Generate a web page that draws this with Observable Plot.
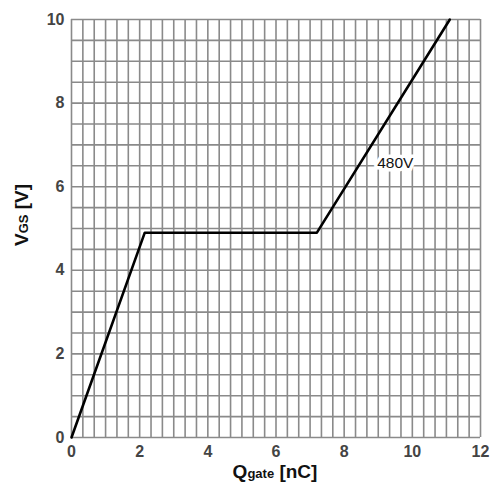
<!DOCTYPE html>
<html><head><meta charset="utf-8">
<script src="https://cdn.jsdelivr.net/npm/d3@7"></script>
<script src="https://cdn.jsdelivr.net/npm/@observablehq/plot@0.6"></script>
<style>body{margin:0;background:#fff}</style>
</head><body><div id="chart"></div>
<script>
const qgate = [0, 2.15, 7.2, 11.1];
const vgs = [0, 4.9, 4.9, 10];
const xTicks = [0, 2, 4, 6, 8, 10, 12];
const yTicks = [0, 2, 4, 6, 8, 10];
const xGrid = d3.range(0, 37).map(i => i / 3);
const yGrid = d3.range(0, 21).map(i => i / 2);
const seriesLabel = "480V";
const labelPos = {x: 9.5, y: 6.57};

const pts = qgate.map((q, i) => ({q, v: vgs[i]}));
const gridColor = "#8a8a8a";

const plot = Plot.plot({
  width: 496, height: 487,
  marginLeft: 71, marginRight: 16, marginTop: 19, marginBottom: 50,
  x: {domain: [0, 12], ticks: xTicks, tickSize: 0, tickPadding: 8, label: null},
  y: {domain: [0, 10], ticks: yTicks, tickSize: 0, tickPadding: 7, label: null},
  style: {fontFamily: "Liberation Sans, Arial, sans-serif", fontSize: "16px", fontWeight: "bold", color: "#444"},
  marks: [
    Plot.ruleX(xGrid, {stroke: gridColor, strokeWidth: 1.6}),
    Plot.ruleY(yGrid, {stroke: gridColor, strokeWidth: 1.6}),
    Plot.axisX({ticks: xTicks, tickSize: 0, tickPadding: 8, fontWeight: "bold", fontSize: 16, fill: "#444"}),
    Plot.axisY({ticks: yTicks, tickSize: 0, tickPadding: 7, fontWeight: "bold", fontSize: 16, fill: "#444"}),
    Plot.line(pts, {x: "q", y: "v", stroke: "#000", strokeWidth: 2.6}),
    Plot.text([labelPos], {x: "x", y: "y", text: () => seriesLabel, fill: "#111", fontSize: 15.5, fontWeight: "normal", stroke: "white", strokeWidth: 7})
  ]
});

const svg = d3.select(plot);
const xl = svg.append("text")
  .attr("x", 275).attr("y", 478).attr("text-anchor", "middle")
  .attr("font-size", 19).attr("font-weight", "bold").attr("fill", "#111");
xl.append("tspan").text("Q");
xl.append("tspan").attr("font-size", 13).text("gate");
xl.append("tspan").text(" [nC]");

const yl = svg.append("text")
  .attr("transform", "translate(28,215) rotate(-90)").attr("text-anchor", "middle")
  .attr("font-size", 19).attr("font-weight", "bold").attr("fill", "#111");
yl.append("tspan").text("V");
yl.append("tspan").attr("font-size", 13).text("GS");
yl.append("tspan").text(" [V]");

document.getElementById("chart").appendChild(plot);
</script></body></html>
